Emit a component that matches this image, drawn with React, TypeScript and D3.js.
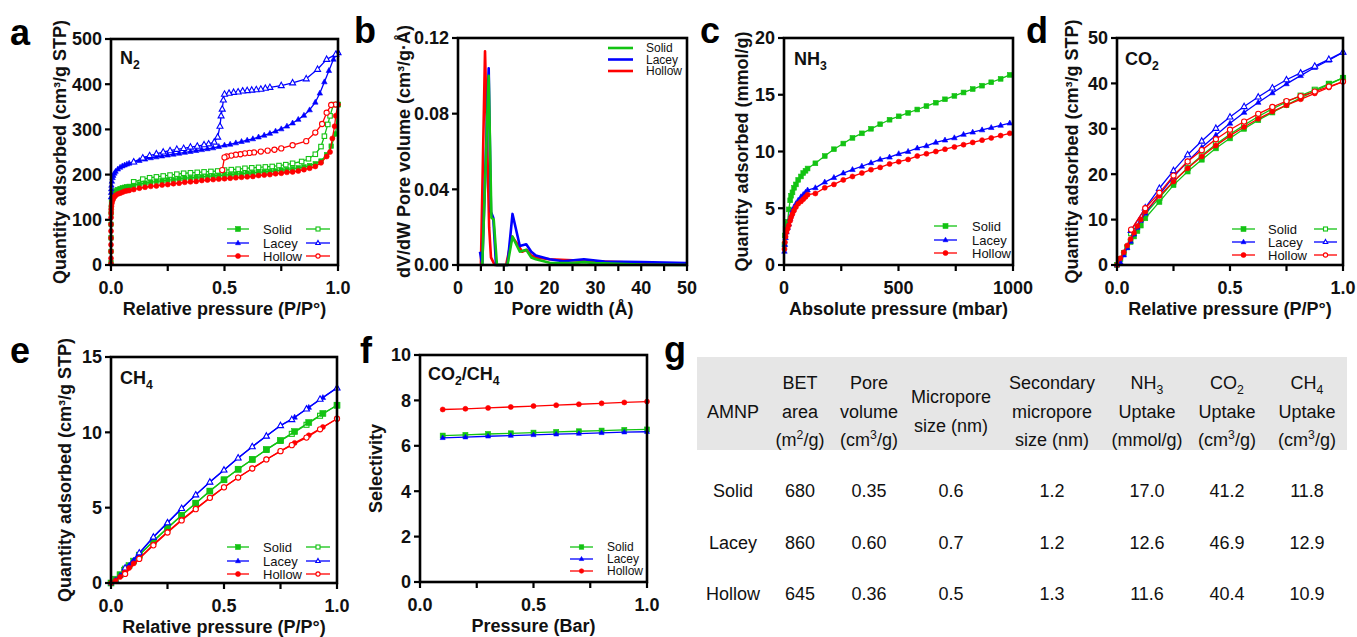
import React from 'react';
import * as d3 from 'd3';

type P = [number, number];

// ---------- Panel a : N2 isotherms (P/P0, cm3/g STP) ----------
const n2SolidAds: P[] = [[0,5],[0,30],[0,60],[0,90],[0.0005,115],[0.001,128],[0.002,138],[0.004,146],[0.007,152],[0.01,157],[0.015,161],[0.02,164],[0.03,167],[0.04,169],[0.05,171],[0.06,172],[0.07,173],[0.08,174],[0.1,176],[0.125,179],[0.15,181],[0.175,183],[0.2,185],[0.225,186],[0.25,188],[0.275,189],[0.3,191],[0.325,192],[0.35,193],[0.375,194],[0.4,195],[0.425,196],[0.45,197],[0.475,198],[0.5,199],[0.525,200],[0.55,201],[0.575,202],[0.6,203],[0.625,204],[0.65,205],[0.675,206],[0.7,207],[0.725,208],[0.75,210],[0.775,211],[0.8,213],[0.825,215],[0.85,217],[0.875,220],[0.9,224],[0.925,230],[0.95,244],[0.97,263],[0.99,290],[1.0,355]];
const n2SolidDes: P[] = [[1.0,355],[0.98,355],[0.965,330],[0.955,311],[0.94,285],[0.925,262],[0.9,245],[0.87,235],[0.84,229],[0.8,225],[0.77,222],[0.74,220],[0.71,218],[0.68,217],[0.65,216],[0.62,215],[0.59,214],[0.56,212],[0.53,211],[0.5,210],[0.47,208],[0.44,207],[0.41,206],[0.38,205],[0.35,204],[0.32,203],[0.29,201],[0.26,199],[0.23,197],[0.2,195],[0.17,193],[0.14,190],[0.1,184]];
const n2LaceyAds: P[] = [[0,150],[0.0005,160],[0.001,168],[0.002,176],[0.004,185],[0.007,193],[0.01,198],[0.015,203],[0.02,207],[0.03,212],[0.04,216],[0.05,219],[0.06,221],[0.07,223],[0.08,225],[0.1,228],[0.125,231],[0.15,234],[0.175,237],[0.2,239],[0.225,241],[0.25,243],[0.275,245],[0.3,247],[0.325,249],[0.35,251],[0.375,253],[0.4,255],[0.425,257],[0.45,259],[0.475,262],[0.5,265],[0.525,267],[0.55,270],[0.575,273],[0.6,276],[0.625,279],[0.65,283],[0.675,287],[0.7,291],[0.725,296],[0.75,301],[0.775,307],[0.8,314],[0.825,322],[0.85,331],[0.875,343],[0.9,360],[0.92,380],[0.94,405],[0.96,430],[0.98,455],[1.0,470]];
const n2LaceyDes: P[] = [[1.0,470],[0.99,466],[0.95,455],[0.91,433],[0.86,412],[0.8,403],[0.75,397],[0.7,393],[0.68,391],[0.66,389],[0.64,388],[0.62,387],[0.6,386],[0.58,385],[0.56,383],[0.54,382],[0.52,380],[0.5,378],[0.495,365],[0.49,345],[0.485,330],[0.48,307],[0.47,283],[0.455,272],[0.43,268],[0.41,266],[0.38,263],[0.35,261],[0.32,258],[0.29,256],[0.26,253],[0.23,250],[0.2,246],[0.17,242],[0.14,237],[0.1,228]];
const n2HollowAds: P[] = [[0,3],[0,15],[0,30],[0,45],[0,60],[0,75],[0,90],[0.0003,105],[0.0006,115],[0.001,123],[0.002,130],[0.004,137],[0.007,143],[0.01,147],[0.015,151],[0.02,154],[0.03,157],[0.04,159],[0.05,161],[0.06,163],[0.07,164],[0.08,165],[0.1,167],[0.125,170],[0.15,172],[0.175,174],[0.2,175],[0.225,177],[0.25,178],[0.275,180],[0.3,181],[0.325,183],[0.35,184],[0.375,185],[0.4,187],[0.425,188],[0.45,189],[0.475,190],[0.5,191],[0.525,192],[0.55,193],[0.575,194],[0.6,195],[0.625,196],[0.65,198],[0.675,199],[0.7,200],[0.725,202],[0.75,203],[0.775,205],[0.8,206],[0.825,208],[0.85,211],[0.875,214],[0.9,218],[0.925,226],[0.95,240],[0.965,250],[0.975,280],[0.985,307],[0.99,330],[1.0,355]];
const n2HollowDes: P[] = [[0.99,355],[0.97,354],[0.95,337],[0.93,312],[0.9,293],[0.86,274],[0.8,265],[0.75,258],[0.72,255],[0.69,253],[0.66,251],[0.63,249],[0.61,248],[0.59,247],[0.57,245],[0.55,244],[0.53,242],[0.51,240],[0.5,238],[0.49,210]];

// ---------- Panel b : pore size distribution (Å, cm3/g·Å) ----------
const psdSolid: P[] = [[5.3,0],[6.7,0.100],[7.3,0.025],[7.8,0.024],[8.5,0],[10.8,0],[11.9,0.015],[13.5,0.007],[14.9,0.008],[16,0.004],[17,0.003],[20,0.0012],[25,0.001],[27.5,0.0015],[30,0.001],[40,0.0002],[50,0]];
const psdLacey: P[] = [[4.8,0.007],[5.3,0],[6.7,0.104],[7.2,0.028],[7.7,0.025],[8.3,0],[10.8,0],[11.9,0.027],[13.5,0.010],[14.9,0.011],[16,0.007],[17,0.005],[20,0.003],[23,0.002],[27.5,0.003],[32,0.0018],[40,0.0015],[50,0.001]];
const psdHollow: P[] = [[5.0,0],[5.9,0.113],[6.8,0.02],[7.2,0.004],[8.0,0],[10.5,0],[11.8,0.015],[13,0.011],[14,0.007],[15,0.008],[16,0.005],[17,0.004],[20,0.003],[25,0.0025],[30,0.002],[35,0.0015],[40,0.001],[50,0.0008]];

// ---------- Panel c : NH3 (mbar, mmol/g) ----------
const nh3Pressure = [2,4,7,11,16,21,27,31,37,44,52,62,74,84,94,103,137,178,218,259,299,340,380,420,461,501,542,582,622,663,703,744,784,824,865,905,946,986];
const nh3Solid = [1.8,2.6,3.2,3.6,3.8,4.9,5.7,6.1,6.4,6.8,7.1,7.5,7.8,8.1,8.3,8.5,8.96,9.6,10.2,10.7,11.2,11.6,12.0,12.4,12.8,13.1,13.4,13.7,14.0,14.3,14.6,14.9,15.2,15.5,15.8,16.1,16.4,16.75];
const nh3Lacey = [1.2,1.8,2.4,2.9,3.3,3.6,4.1,4.4,4.8,5.1,5.4,5.7,6.0,6.2,6.4,6.6,6.8,7.3,7.7,8.1,8.4,8.7,9.0,9.3,9.5,9.8,10.0,10.3,10.5,10.8,11.0,11.2,11.5,11.7,11.9,12.1,12.3,12.5];
const nh3Hollow = [1.4,2.0,2.5,2.9,3.2,3.5,3.9,4.2,4.5,4.8,5.1,5.4,5.6,5.8,6.0,6.2,6.3,6.8,7.1,7.5,7.8,8.1,8.4,8.6,8.9,9.1,9.3,9.6,9.8,10.0,10.2,10.4,10.6,10.8,11.0,11.2,11.4,11.6];

// ---------- Panel d : CO2 (P/P0, cm3/g STP) ----------
const co2AdsP = [0,0.015,0.03,0.045,0.06,0.075,0.09,0.105,0.125,0.1875,0.25,0.3125,0.375,0.4375,0.5,0.5625,0.625,0.6875,0.75,0.8125,0.875,0.9375,1.0];
const co2SolidAds = [0,1.3,2.6,3.9,5.1,6.3,7.5,8.7,10.3,13.9,17.6,20.6,23.2,25.7,27.9,30.0,31.9,33.6,35.2,36.8,38.3,39.8,41.2];
const co2LaceyAds = [0,0.6,2.2,3.8,5.2,6.8,8.3,9.8,11.4,15.5,19.4,22.8,25.9,28.6,31.2,33.6,35.8,37.9,39.9,41.7,43.5,45.1,46.8];
const co2HollowAds = [0,1.5,2.8,4.3,5.7,7.1,8.6,10.0,11.8,15.2,18.4,21.3,23.9,26.3,28.5,30.4,32.2,33.8,35.2,36.5,37.8,39.1,40.4];
const co2DesP = [1.0,0.9375,0.875,0.8125,0.75,0.6875,0.625,0.5625,0.5,0.4375,0.375,0.3125,0.25,0.1875,0.125,0.0625];
const co2SolidDes = [41.2,39.9,38.6,37.3,35.9,34.4,32.7,30.8,28.8,26.6,24.1,21.4,18.4,14.8,11.2,7.0];
const co2LaceyDes = [46.9,45.3,43.8,42.3,40.8,39.0,37.0,34.9,32.6,30.1,27.3,24.3,20.8,16.9,12.6,7.6];
const co2HollowDes = [40.4,39.3,38.2,37.2,36.1,34.8,33.3,31.6,29.8,27.7,25.3,22.8,19.7,15.9,12.5,7.8];

// ---------- Panel e : CH4 (P/P0, cm3/g STP) ----------
const ch4AdsP = [0,0.02,0.04,0.06,0.08,0.1,0.125,0.1875,0.25,0.3125,0.375,0.4375,0.5,0.5625,0.625,0.6875,0.75,0.8125,0.875,0.9375,1.0];
const ch4SolidAds = [0,0.25,0.55,0.85,1.15,1.45,1.85,2.8,3.65,4.5,5.3,6.1,6.85,7.55,8.2,8.85,9.45,10.05,10.65,11.25,11.8];
const ch4LaceyAds = [0,0.2,0.5,0.8,1.15,1.5,1.95,3.05,4.0,4.95,5.85,6.7,7.5,8.3,9.05,9.75,10.45,11.0,11.65,12.3,12.95];
const ch4HollowAds = [0,0.15,0.4,0.7,1.0,1.3,1.65,2.55,3.4,4.2,4.95,5.65,6.35,7.0,7.6,8.2,8.75,9.3,9.8,10.35,10.9];
const ch4DesP = [1.0,0.925,0.865,0.8,0.75,0.6875,0.625,0.5625,0.5,0.4375,0.375,0.3125,0.25,0.1875,0.125,0.0625];
const ch4SolidDes = [11.8,11.1,10.5,9.9,9.45,8.85,8.2,7.55,6.85,6.1,5.3,4.5,3.65,2.75,1.85,0.95];
const ch4LaceyDes = [12.95,12.2,11.55,10.85,10.45,9.75,9.05,8.3,7.5,6.7,5.85,4.95,4.0,3.05,2.0,1.0];
const ch4HollowDes = [10.9,10.2,9.65,9.15,8.75,8.2,7.6,7.0,6.35,5.65,4.9,4.15,3.35,2.5,1.6,0.6];

// ---------- Panel f : CO2/CH4 selectivity ----------
const selPressure = [0.1,0.2,0.3,0.4,0.5,0.6,0.7,0.8,0.9,1.0];
const selSolid = [6.45,6.48,6.52,6.55,6.58,6.61,6.64,6.67,6.7,6.72];
const selLacey = [6.35,6.38,6.42,6.45,6.48,6.51,6.54,6.57,6.6,6.62];
const selHollow = [7.6,7.63,7.67,7.71,7.75,7.79,7.83,7.87,7.91,7.95];

// ---------- Table g ----------
const tableSamples = ['Solid', 'Lacey', 'Hollow'];
const betArea = ['680', '860', '645'];
const poreVolume = ['0.35', '0.60', '0.36'];
const microporeSize = ['0.6', '0.7', '0.5'];
const secondarySize = ['1.2', '1.2', '1.3'];
const nh3Uptake = ['17.0', '12.6', '11.6'];
const co2Uptake = ['41.2', '46.9', '40.4'];
const ch4Uptake = ['11.8', '12.9', '10.9'];

const sampleNames = ['Solid', 'Lacey', 'Hollow'];

// ---------- styling ----------
const GREEN = '#13c313';
const BLUE = '#0000ff';
const RED = '#ff0000';
const FONT = "'Liberation Sans', Arial, Helvetica, sans-serif";

type Shape = 'square' | 'triangle' | 'circle' | 'none';

interface Series {
  data: P[];
  color: string;
  shape: Shape;
  filled: boolean;
  size: number;
  lw: number;
}

const zipP = (xs: number[], ys: number[]): P[] => xs.map((x, i) => [x, ys[i]] as P);

function Marker({ shape, filled, color, x, y, size }: { shape: Shape; filled: boolean; color: string; x: number; y: number; size: number }) {
  const fill = filled ? color : '#ffffff';
  const sw = filled ? 0.6 : 1.1;
  if (shape === 'square') {
    const s = filled ? size : size - 1;
    return <rect x={x - s / 2} y={y - s / 2} width={s} height={s} fill={fill} stroke={color} strokeWidth={sw} />;
  }
  if (shape === 'triangle') {
    const s = filled ? size : size - 0.5;
    const h = s * 0.9;
    return <path d={`M${x},${y - h * 0.62}L${x + s / 2},${y + h * 0.38}L${x - s / 2},${y + h * 0.38}Z`} fill={fill} stroke={color} strokeWidth={sw} />;
  }
  if (shape === 'circle') {
    const r = filled ? size / 2 : size / 2 - 0.4;
    return <circle cx={x} cy={y} r={r} fill={fill} stroke={color} strokeWidth={sw} />;
  }
  return null;
}

type Seg = [string, ('sub' | 'sup')?];

// text with sub/superscripts; baseline shift tracked so following text returns to baseline
function Rich({ segs, x, y, size, weight, anchor, fill }: { segs: Seg[]; x: number; y: number; size: number; weight?: string; anchor?: string; fill?: string }) {
  const out: any[] = [];
  let shift = 0;
  segs.forEach((s, i) => {
    let target = 0;
    let fs: number | undefined = undefined;
    if (s[1] === 'sub') { target = size * 0.28; fs = size * 0.68; }
    if (s[1] === 'sup') { target = -size * 0.38; fs = size * 0.68; }
    const dy = target - shift;
    shift = target;
    out.push(<tspan key={i} dy={dy} fontSize={fs}>{s[0]}</tspan>);
  });
  return (
    <text x={x} y={y} fontSize={size} fontWeight={weight || 'normal'} fontFamily={FONT} textAnchor={anchor || 'start'} fill={fill || '#111'}>
      {out}
    </text>
  );
}

interface LegendSpec {
  rows: number[];
  lx1: number;
  lx2: number;
  tx: number;
  rx1?: number;
  rx2?: number;
  font: number;
  lw: number;
  mSize: number;
  shapes: Shape[];
  colors: string[];
}

function Legend({ spec }: { spec: LegendSpec }) {
  return (
    <g>
      {sampleNames.map((name, i) => {
        const y = spec.rows[i];
        const c = spec.colors[i];
        const sh = spec.shapes[i];
        const mid = (spec.lx1 + spec.lx2) / 2;
        return (
          <g key={name}>
            <line x1={spec.lx1} x2={spec.lx2} y1={y} y2={y} stroke={c} strokeWidth={spec.lw} />
            <Marker shape={sh} filled={true} color={c} x={mid} y={y} size={spec.mSize} />
            <text x={spec.tx} y={y} dy="0.36em" fontSize={spec.font} fontFamily={FONT} fill="#111">{name}</text>
            {spec.rx1 !== undefined && spec.rx2 !== undefined && (
              <g>
                <line x1={spec.rx1} x2={spec.rx2} y1={y} y2={y} stroke={c} strokeWidth={spec.lw} />
                <Marker shape={sh} filled={false} color={c} x={(spec.rx1 + spec.rx2) / 2} y={y} size={spec.mSize} />
              </g>
            )}
          </g>
        );
      })}
    </g>
  );
}

interface PanelSpec {
  left: number;
  right: number;
  top: number;
  bottom: number;
  xDomain: [number, number];
  yDomain: [number, number];
  xTicks: number[];
  xMinor: number[];
  yTicks: number[];
  xFmt: (v: number) => string;
  yFmt: (v: number) => string;
  xLabel: string;
  yLabel: string;
  yLabelOff: number;
  series: Series[];
  letter: string;
  letterX: number;
  letterY: number;
  gas?: Seg[];
  gasX?: number;
  gasY?: number;
  legend: LegendSpec;
}

function Panel({ s }: { s: PanelSpec }) {
  const xs = d3.scaleLinear().domain(s.xDomain).range([s.left, s.right]);
  const ys = d3.scaleLinear().domain(s.yDomain).range([s.bottom, s.top]);
  const line = d3.line<P>().x(d => xs(d[0])).y(d => ys(d[1]));
  const tickLen = 6;
  return (
    <g>
      {s.series.map((se, i) => (
        <g key={i}>
          <path d={line(se.data) || ''} fill="none" stroke={se.color} strokeWidth={se.lw} strokeLinejoin="round" />
          {se.shape !== 'none' && se.data.map((d, j) => (
            <Marker key={j} shape={se.shape} filled={se.filled} color={se.color} x={xs(d[0])} y={ys(d[1])} size={se.size} />
          ))}
        </g>
      ))}
      <rect x={s.left} y={s.top} width={s.right - s.left} height={s.bottom - s.top} fill="none" stroke="#000" strokeWidth={2.6} />
      {s.xTicks.concat(s.xMinor).map((t, i) => (
        <line key={'xt' + i} x1={xs(t)} x2={xs(t)} y1={s.bottom} y2={s.bottom + tickLen} stroke="#000" strokeWidth={2.2} />
      ))}
      {s.yTicks.map((t, i) => (
        <line key={'yt' + i} x1={s.left - tickLen} x2={s.left} y1={ys(t)} y2={ys(t)} stroke="#000" strokeWidth={2.2} />
      ))}
      {s.xTicks.map((t, i) => (
        <text key={'xl' + i} x={xs(t)} y={s.bottom + 29} textAnchor="middle" fontSize={18} fontWeight="bold" fontFamily={FONT} fill="#111">{s.xFmt(t)}</text>
      ))}
      {s.yTicks.map((t, i) => (
        <text key={'yl' + i} x={s.left - 9} y={ys(t)} dy="0.36em" textAnchor="end" fontSize={18} fontWeight="bold" fontFamily={FONT} fill="#111">{s.yFmt(t)}</text>
      ))}
      <text x={(s.left + s.right) / 2} y={s.bottom + 50} textAnchor="middle" fontSize={18} fontWeight="bold" fontFamily={FONT} fill="#111">{s.xLabel}</text>
      <text transform={`translate(${s.left - s.yLabelOff},${(s.top + s.bottom) / 2}) rotate(-90)`} textAnchor="middle" dy="0.36em" fontSize={18} fontWeight="bold" fontFamily={FONT} fill="#111">{s.yLabel}</text>
      <text x={s.letterX} y={s.letterY} fontSize={36} fontWeight="bold" fontFamily={FONT} fill="#000">{s.letter}</text>
      {s.gas && <Rich segs={s.gas} x={s.gasX!} y={s.gasY!} size={18} weight="bold" />}
      <Legend spec={s.legend} />
    </g>
  );
}

const f1 = d3.format('.1f');
const f0 = d3.format('d');
const f2 = d3.format('.2f');

const SH: Shape[] = ['square', 'triangle', 'circle'];
const COL = [GREEN, BLUE, RED];

function mk(data: P[], color: string, shape: Shape, filled: boolean, size: number, lw = 1.3): Series {
  return { data, color, shape, filled, size, lw };
}

const panels: PanelSpec[] = [
  {
    left: 111, right: 338, top: 39, bottom: 265,
    xDomain: [0, 1], yDomain: [0, 500],
    xTicks: [0, 0.5, 1], xMinor: [0.25, 0.75], yTicks: [0, 100, 200, 300, 400, 500],
    xFmt: f1, yFmt: f0,
    xLabel: 'Relative pressure (P/P°)', yLabel: 'Quantity adsorbed (cm³/g STP)', yLabelOff: 51,
    series: [
      mk(n2SolidDes, GREEN, 'square', false, 5.5),
      mk(n2SolidAds, GREEN, 'square', true, 4.5),
      mk(n2LaceyAds, BLUE, 'triangle', true, 5.5),
      mk(n2LaceyDes, BLUE, 'triangle', false, 6.5),
      mk(n2HollowAds, RED, 'circle', true, 5),
      mk(n2HollowDes, RED, 'circle', false, 6),
    ],
    letter: 'a', letterX: 10, letterY: 45,
    gas: [['N'], ['2', 'sub']], gasX: 120, gasY: 64,
    legend: { rows: [229, 243, 256], lx1: 227, lx2: 249, tx: 263, rx1: 306, rx2: 330, font: 13, lw: 1.3, mSize: 5, shapes: SH, colors: COL },
  },
  {
    left: 458, right: 687, top: 38, bottom: 265,
    xDomain: [0, 50], yDomain: [0, 0.12],
    xTicks: [0, 10, 20, 30, 40, 50], xMinor: [5, 15, 25, 35, 45], yTicks: [0, 0.04, 0.08, 0.12],
    xFmt: f0, yFmt: f2,
    xLabel: 'Pore width (Å)', yLabel: 'dV/dW Pore volume (cm³/g·Å)', yLabelOff: 54,
    series: [
      mk(psdHollow, RED, 'none', true, 0, 2.6),
      mk(psdLacey, BLUE, 'none', true, 0, 2.6),
      mk(psdSolid, GREEN, 'none', true, 0, 2.6),
    ],
    letter: 'b', letterX: 354, letterY: 43,
    legend: { rows: [48, 59.5, 71], lx1: 608, lx2: 633, tx: 646, font: 12, lw: 2.6, mSize: 0, shapes: ['none', 'none', 'none'], colors: COL },
  },
  {
    left: 784, right: 1013, top: 38, bottom: 265,
    xDomain: [0, 1000], yDomain: [0, 20],
    xTicks: [0, 500, 1000], xMinor: [250, 750], yTicks: [0, 5, 10, 15, 20],
    xFmt: f0, yFmt: f0,
    xLabel: 'Absolute pressure (mbar)', yLabel: 'Quantity adsorbed (mmol/g)', yLabelOff: 42,
    series: [
      mk(zipP(nh3Pressure, nh3Solid), GREEN, 'square', true, 4.8),
      mk(zipP(nh3Pressure, nh3Lacey), BLUE, 'triangle', true, 5.5),
      mk(zipP(nh3Pressure, nh3Hollow), RED, 'circle', true, 5),
    ],
    letter: 'c', letterX: 700, letterY: 43,
    gas: [['NH'], ['3', 'sub']], gasX: 794, gasY: 65,
    legend: { rows: [226, 240, 253], lx1: 934, lx2: 957, tx: 972, font: 13, lw: 1.3, mSize: 5, shapes: SH, colors: COL },
  },
  {
    left: 1117, right: 1343, top: 38, bottom: 265,
    xDomain: [0, 1], yDomain: [0, 50],
    xTicks: [0, 0.5, 1], xMinor: [0.25, 0.75], yTicks: [0, 10, 20, 30, 40, 50],
    xFmt: f1, yFmt: f0,
    xLabel: 'Relative pressure (P/P°)', yLabel: 'Quantity adsorbed (cm³/g STP)', yLabelOff: 45,
    series: [
      mk(zipP(co2DesP, co2SolidDes), GREEN, 'square', false, 6),
      mk(zipP(co2AdsP, co2SolidAds), GREEN, 'square', true, 5),
      mk(zipP(co2AdsP, co2LaceyAds), BLUE, 'triangle', true, 5.5),
      mk(zipP(co2DesP, co2LaceyDes), BLUE, 'triangle', false, 6.5),
      mk(zipP(co2AdsP, co2HollowAds), RED, 'circle', true, 5),
      mk(zipP(co2DesP, co2HollowDes), RED, 'circle', false, 6),
    ],
    letter: 'd', letterX: 1026, letterY: 43,
    gas: [['CO'], ['2', 'sub']], gasX: 1125, gasY: 65,
    legend: { rows: [229, 242, 255], lx1: 1232, lx2: 1255, tx: 1268, rx1: 1314, rx2: 1337, font: 13, lw: 1.3, mSize: 5, shapes: SH, colors: COL },
  },
  {
    left: 111, right: 337, top: 357, bottom: 583,
    xDomain: [0, 1], yDomain: [0, 15],
    xTicks: [0, 0.5, 1], xMinor: [0.25, 0.75], yTicks: [0, 5, 10, 15],
    xFmt: f1, yFmt: f0,
    xLabel: 'Relative pressure (P/P°)', yLabel: 'Quantity adsorbed (cm³/g STP)', yLabelOff: 46,
    series: [
      mk(zipP(ch4DesP, ch4SolidDes), GREEN, 'square', false, 6),
      mk(zipP(ch4AdsP, ch4SolidAds), GREEN, 'square', true, 6),
      mk(zipP(ch4AdsP, ch4LaceyAds), BLUE, 'triangle', true, 5.5),
      mk(zipP(ch4DesP, ch4LaceyDes), BLUE, 'triangle', false, 6.5),
      mk(zipP(ch4AdsP, ch4HollowAds), RED, 'circle', true, 5),
      mk(zipP(ch4DesP, ch4HollowDes), RED, 'circle', false, 6),
    ],
    letter: 'e', letterX: 10, letterY: 363,
    gas: [['CH'], ['4', 'sub']], gasX: 120, gasY: 384,
    legend: { rows: [547, 561, 574], lx1: 227, lx2: 249, tx: 263, rx1: 306, rx2: 330, font: 13, lw: 1.3, mSize: 5, shapes: SH, colors: COL },
  },
  {
    left: 420, right: 647, top: 355, bottom: 582,
    xDomain: [0, 1], yDomain: [0, 10],
    xTicks: [0, 0.5, 1], xMinor: [0.25, 0.75], yTicks: [0, 2, 4, 6, 8, 10],
    xFmt: f1, yFmt: f0,
    xLabel: 'Pressure (Bar)', yLabel: 'Selectivity', yLabelOff: 44,
    series: [
      mk(zipP(selPressure, selSolid), GREEN, 'square', true, 5),
      mk(zipP(selPressure, selLacey), BLUE, 'triangle', true, 5),
      mk(zipP(selPressure, selHollow), RED, 'circle', true, 5),
    ],
    letter: 'f', letterX: 360, letterY: 363,
    gas: [['CO'], ['2', 'sub'], ['/CH'], ['4', 'sub']], gasX: 428, gasY: 380,
    legend: { rows: [547, 559, 571], lx1: 570, lx2: 593, tx: 607, font: 12, lw: 1.3, mSize: 4.5, shapes: SH, colors: COL },
  },
];

// table layout
const colX = [733, 800, 869, 951, 1052, 1147, 1227, 1307];
const headerLines: (Seg[] | null)[][] = [
  [null, [['AMNP']], null],
  [[['BET']], [['area']], [['(m'], ['2', 'sup'], ['/g)']]],
  [[['Pore']], [['volume']], [['(cm'], ['3', 'sup'], ['/g)']]],
  [null, null, null],
  [[['Secondary']], [['micropore']], [['size (nm)']]],
  [[['NH'], ['3', 'sub']], [['Uptake']], [['(mmol/g)']]],
  [[['CO'], ['2', 'sub']], [['Uptake']], [['(cm'], ['3', 'sup'], ['/g)']]],
  [[['CH'], ['4', 'sub']], [['Uptake']], [['(cm'], ['3', 'sup'], ['/g)']]],
];
const lineY = [389, 418, 446];
const rowY = [497, 549, 600];

function Table() {
  const rowsData = [tableSamples, betArea, poreVolume, microporeSize, secondarySize, nh3Uptake, co2Uptake, ch4Uptake];
  return (
    <g>
      <text x={664} y={362} fontSize={36} fontWeight="bold" fontFamily={FONT} fill="#000">g</text>
      <rect x={697} y={357} width={650} height={93} fill="#e6e6e6" />
      {headerLines.map((lines, ci) => (
        <g key={ci}>
          {lines.map((segs, li) => segs ? <Rich key={li} segs={segs} x={colX[ci]} y={lineY[li]} size={18} anchor="middle" /> : null)}
        </g>
      ))}
      <text x={colX[3]} y={403} textAnchor="middle" fontSize={18} fontFamily={FONT} fill="#111">Micropore</text>
      <text x={colX[3]} y={432} textAnchor="middle" fontSize={18} fontFamily={FONT} fill="#111">size (nm)</text>
      {rowsData.map((col, ci) => col.map((v, ri) => (
        <text key={ci + '-' + ri} x={colX[ci]} y={rowY[ri]} textAnchor="middle" fontSize={18} fontFamily={FONT} fill="#111">{v}</text>
      )))}
    </g>
  );
}

export default function App() {
  return (
    <svg width={1357} height={637} viewBox="0 0 1357 637" style={{ position: 'absolute', left: 0, top: 0, background: '#fff' }}>
      <rect width={1357} height={637} fill="#fff" />
      {panels.map((p, i) => <Panel key={i} s={p} />)}
      <Table />
    </svg>
  );
}
